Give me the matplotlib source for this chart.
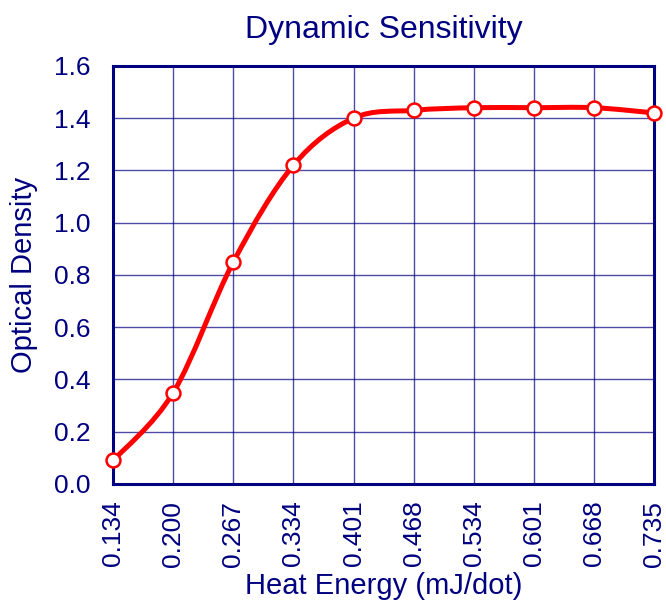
import numpy as np
import matplotlib.pyplot as plt
from matplotlib.path import Path
from matplotlib.patches import PathPatch

plt.rcParams['font.family'] = ['Liberation Sans', 'DejaVu Sans']

heat_labels = ['0.134', '0.200', '0.267', '0.334', '0.401',
               '0.468', '0.534', '0.601', '0.668', '0.735']
density = [0.09, 0.35, 0.85, 1.22, 1.40, 1.43, 1.44, 1.44, 1.44, 1.42]

navy = '#000080'
red = '#ff0000'

x = np.arange(len(heat_labels), dtype=float)
y = np.array(density)

fig = plt.figure(figsize=(6.66, 6.10), dpi=100)
ax = fig.add_axes([0.170, 0.2066, 0.812, 0.6854])

# smooth line through the points (Catmull-Rom as cubic Bezier segments)
verts = [(x[0], y[0])]
codes = [Path.MOVETO]
n = len(x)
for i in range(n - 1):
    p0 = np.array([x[max(i - 1, 0)], y[max(i - 1, 0)]])
    p1 = np.array([x[i], y[i]])
    p2 = np.array([x[i + 1], y[i + 1]])
    p3 = np.array([x[min(i + 2, n - 1)], y[min(i + 2, n - 1)]])
    c1 = p1 + (p2 - p0) / 6.0
    c2 = p2 - (p3 - p1) / 6.0
    verts += [tuple(c1), tuple(c2), tuple(p2)]
    codes += [Path.CURVE4] * 3
ax.add_patch(PathPatch(Path(verts, codes), facecolor='none', edgecolor=red,
                       lw=3.6, zorder=3, capstyle='round', joinstyle='round'))
ax.plot(x, y, linestyle='none', marker='o', ms=10, mfc='white', mec=red,
        mew=1.8, zorder=4, clip_on=False)

ax.set_xlim(0, n - 1)
ax.set_ylim(0, 1.6)
ax.set_xticks(x)
ax.set_xticklabels(heat_labels, rotation=90)
ax.set_yticks(np.arange(0, 1.61, 0.2))
ax.set_yticklabels([f'{v:.1f}' for v in np.arange(0, 1.61, 0.2)])
ax.tick_params(length=0, labelsize=19, colors=navy)
ax.tick_params(axis='x', pad=12)
ax.tick_params(axis='y', pad=16)

ax.grid(True, color=navy, lw=1.0, alpha=0.7)
ax.set_axisbelow(True)
for s in ax.spines.values():
    s.set_color(navy)
    s.set_linewidth(2.2)

ax.set_title('Dynamic Sensitivity', fontsize=23, color=navy, pad=20)
ax.set_xlabel('Heat Energy (mJ/dot)', fontsize=21, color=navy, labelpad=4)
ax.set_ylabel('Optical Density', fontsize=21, color=navy, labelpad=12)

fig.savefig('out.png', dpi=100)
